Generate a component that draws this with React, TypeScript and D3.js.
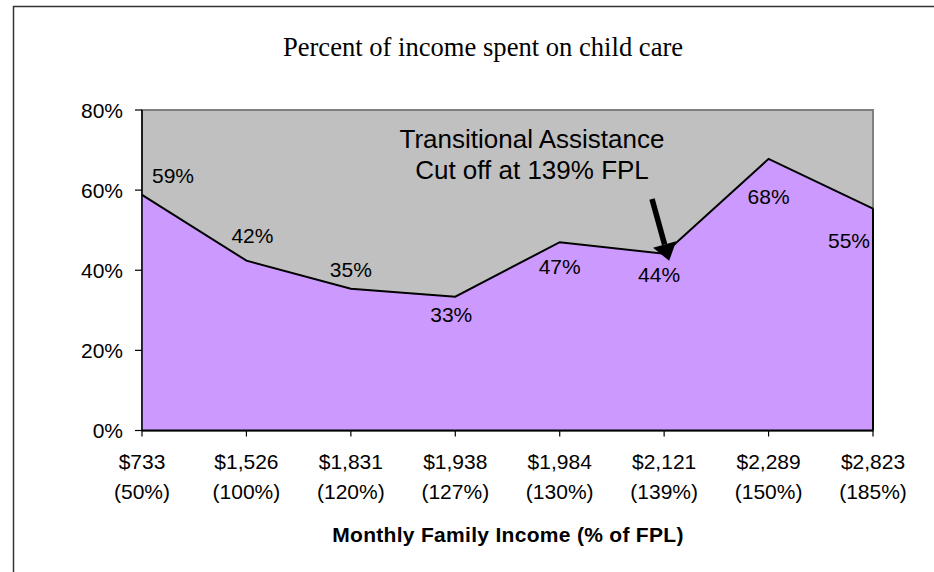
import React from "react";
import * as d3 from "d3";

const incomes = ["$733", "$1,526", "$1,831", "$1,938", "$1,984", "$2,121", "$2,289", "$2,823"];
const fplPercents = ["(50%)", "(100%)", "(120%)", "(127%)", "(130%)", "(139%)", "(150%)", "(185%)"];
const sharePercent = [58.8, 42.4, 35.4, 33.4, 47.0, 44.1, 67.8, 55.4];
const yTicks = [0, 20, 40, 60, 80];
const annotationLines = ["Transitional Assistance", "Cut off at 139% FPL"];
const arrowTargetIndex = 5;

// label placement offsets (layout, relative to each point)
const labelOffsets: [number, number][] = [
  [31, -12], [6, -18], [0, -12], [-4, 25], [0, 32], [-5, 28], [0, 45], [-24, 39],
];

const W = 934;
const H = 572;
const left = 142;
const right = 873;
const top = 110;
const bottom = 430.5;
const sans = "'Liberation Sans', Arial, sans-serif";
const serif = "'Liberation Serif', 'Times New Roman', serif";

export default function App() {
  const x = d3.scalePoint<string>().domain(incomes).range([left, right]);
  const y = d3.scaleLinear().domain([0, 80]).range([bottom, top]);

  const area = d3
    .area<number>()
    .x((_, i) => x(incomes[i]) as number)
    .y0(y(0))
    .y1((d) => y(d));
  const line = d3
    .line<number>()
    .x((_, i) => x(incomes[i]) as number)
    .y((d) => y(d));

  const tx = x(incomes[arrowTargetIndex]) as number;
  const ty = y(sharePercent[arrowTargetIndex]);
  const tipX = tx + 5;
  const tipY = ty + 7;
  const startX = 652;
  const startY = 199;
  const ang = Math.atan2(tipY - startY, tipX - startX);
  const headLen = 17;
  const headHalf = 12;
  const bx = tipX - headLen * Math.cos(ang);
  const by = tipY - headLen * Math.sin(ang);
  const px = -Math.sin(ang);
  const py = Math.cos(ang);

  return (
    <svg width={W} height={H} style={{ position: "absolute", left: 0, top: 0 }}>
      <rect x={0} y={0} width={W} height={H} fill="#fff" />
      <rect x={13.5} y={6.5} width={W + 40} height={H + 40} fill="none" stroke="#333" strokeWidth={1.5} />
      <text x={483} y={56} textAnchor="middle" fontFamily={serif} fontSize={26.6} fill="#000">
        Percent of income spent on child care
      </text>
      <rect x={left} y={top} width={right - left} height={bottom - top} fill="#C0C0C0" stroke="#808080" strokeWidth={2} />
      <path d={area(sharePercent) as string} fill="#CC99FF" />
      <path d={line(sharePercent) as string} fill="none" stroke="#000" strokeWidth={2} />
      <line x1={right} x2={right} y1={y(sharePercent[sharePercent.length - 1])} y2={bottom} stroke="#000" strokeWidth={2} />
      {/* axes */}
      <line x1={left} x2={left} y1={top} y2={bottom} stroke="#000" strokeWidth={1.5} />
      <line x1={left} x2={right} y1={bottom} y2={bottom} stroke="#000" strokeWidth={2} />
      {yTicks.map((t) => (
        <g key={t}>
          <line x1={left - 7} x2={left} y1={y(t)} y2={y(t)} stroke="#000" strokeWidth={1.2} />
          <text x={123} y={y(t)} dy="0.36em" textAnchor="end" fontFamily={sans} fontSize={21} fill="#000">
            {t}%
          </text>
        </g>
      ))}
      {incomes.map((c, i) => (
        <g key={c}>
          <line x1={x(c)} x2={x(c)} y1={bottom} y2={bottom + 6} stroke="#000" strokeWidth={1.2} />
          <text x={x(c)} y={469} textAnchor="middle" fontFamily={sans} fontSize={21} fill="#000">
            {c}
          </text>
          <text x={x(c)} y={499} textAnchor="middle" fontFamily={sans} fontSize={21} fill="#000">
            {fplPercents[i]}
          </text>
        </g>
      ))}
      <text x={508} y={542} textAnchor="middle" fontFamily={sans} fontSize={21} fontWeight="bold" letterSpacing={0.3} fill="#000">
        Monthly Family Income (% of FPL)
      </text>
      {sharePercent.map((v, i) => (
        <text
          key={i}
          x={(x(incomes[i]) as number) + labelOffsets[i][0]}
          y={y(v) + labelOffsets[i][1]}
          textAnchor="middle"
          fontFamily={sans}
          fontSize={21}
          fill="#000"
        >
          {Math.round(v)}%
        </text>
      ))}
      {annotationLines.map((t, i) => (
        <text key={t} x={532} y={148 + i * 31} textAnchor="middle" fontFamily={sans} fontSize={26} fill="#000">
          {t}
        </text>
      ))}
      <line x1={startX} y1={startY} x2={bx} y2={by} stroke="#000" strokeWidth={5.5} />
      <path
        d={`M${tipX},${tipY} L${bx + px * headHalf},${by + py * headHalf} L${bx - px * headHalf},${by - py * headHalf} Z`}
        fill="#000"
      />
    </svg>
  );
}
